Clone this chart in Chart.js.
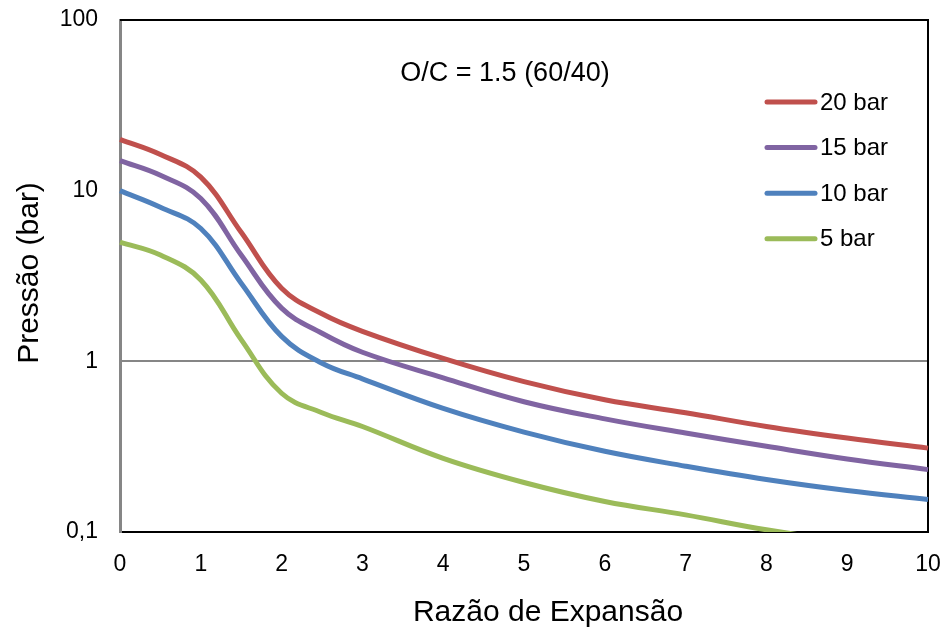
<!DOCTYPE html>
<html>
<head>
<meta charset="utf-8">
<script src="https://cdn.jsdelivr.net/npm/chart.js@4/dist/chart.umd.min.js"></script>
<style>
  body { margin: 0; background: #fff; }
</style>
</head>
<body>
<canvas id="grafico" width="946" height="633"></canvas>
<script>
// Razão de expansão (eixo x)
const razao = [0, 0.5, 1, 1.5, 2, 2.5, 3, 4, 5, 6, 7, 8, 9, 10];

// Pressão (bar) para cada pressão inicial
const p20 = [20, 16.3, 12.0, 5.7, 2.68, 1.9, 1.5, 1.04, 0.76, 0.595, 0.5, 0.415, 0.355, 0.31];
const p15 = [15, 12.3, 9.0, 4.2, 2.05, 1.46, 1.13, 0.80, 0.58, 0.46, 0.38, 0.318, 0.268, 0.232];
const p10 = [10, 8.0, 6.0, 2.87, 1.4, 0.975, 0.79, 0.53, 0.385, 0.297, 0.243, 0.203, 0.175, 0.155];
const p5 = [5, 4.2, 3.0, 1.34, 0.65, 0.50, 0.415, 0.27, 0.195, 0.151, 0.126, 0.103, 0.088, 0.076];

const nomes = ["20 bar", "15 bar", "10 bar", "5 bar"];
const cores = ["#C0504D", "#8064A2", "#4F81BD", "#9BBB59"];

// Ticks do eixo y (log)
const yTicks = [0.1, 1, 10, 100];
const yTickLabels = ["0,1", "1", "10", "100"];

const FONTE = "'Liberation Sans', Arial, sans-serif";

function serie(valores) {
  return razao.map((x, i) => ({ x: x, y: valores[i] }));
}

function dataset(label, valores, cor) {
  return {
    label: label,
    data: serie(valores),
    borderColor: cor,
    backgroundColor: cor,
    borderWidth: 5,
    pointRadius: 0,
    tension: 0.4,
    clip: { left: 3, right: 3, top: 0, bottom: 0 }
  };
}

// Moldura, título interno, legenda e títulos dos eixos
const extras = {
  id: "extras",
  beforeDatasetsDraw(chart) {
    const { ctx, chartArea: a } = chart;
    ctx.save();
    ctx.strokeStyle = "#000";
    ctx.lineWidth = 2;
    ctx.beginPath();
    ctx.moveTo(a.left, a.top);
    ctx.lineTo(a.right, a.top);
    ctx.lineTo(a.right, a.bottom);
    ctx.stroke();
    ctx.restore();
  },
  afterDraw(chart) {
    const { ctx } = chart;
    ctx.save();
    ctx.fillStyle = "#000";

    // texto interno
    ctx.font = "27px " + FONTE;
    ctx.textAlign = "center";
    ctx.textBaseline = "alphabetic";
    ctx.fillText("O/C = 1.5 (60/40)", 505, 81);

    // legenda
    ctx.font = "24px " + FONTE;
    ctx.textAlign = "left";
    ctx.textBaseline = "middle";
    chart.data.datasets.forEach((ds, i) => {
      const y = 102 + i * 45.6;
      ctx.strokeStyle = ds.borderColor;
      ctx.lineWidth = 5;
      ctx.lineCap = "round";
      ctx.beginPath();
      ctx.moveTo(767, y);
      ctx.lineTo(815, y);
      ctx.stroke();
      ctx.fillText(ds.label, 820, y + 1);
    });

    // títulos dos eixos
    ctx.font = "30px " + FONTE;
    ctx.textAlign = "center";
    ctx.textBaseline = "alphabetic";
    ctx.fillText("Razão de Expansão", 548, 621);

    ctx.translate(38, 273);
    ctx.rotate(-Math.PI / 2);
    ctx.fillText("Pressão (bar)", 0, 0);
    ctx.restore();
  }
};

new Chart(document.getElementById("grafico"), {
  type: "line",
  data: {
    datasets: [
      dataset(nomes[0], p20, cores[0]),
      dataset(nomes[1], p15, cores[1]),
      dataset(nomes[2], p10, cores[2]),
      dataset(nomes[3], p5, cores[3])
    ]
  },
  options: {
    responsive: false,
    animation: false,
    devicePixelRatio: 1,
    layout: { padding: { top: 20, right: 18, left: 0, bottom: 0 } },
    plugins: {
      legend: { display: false },
      tooltip: { enabled: false }
    },
    scales: {
      x: {
        type: "linear",
        min: 0,
        max: 10,
        afterFit: s => {
          s.height = 101;
          s.paddingLeft = 0;
          s.paddingRight = 0;
        },
        ticks: {
          stepSize: 1,
          padding: 19,
          color: "#000",
          font: { family: FONTE, size: 23 }
        },
        grid: { drawOnChartArea: false, drawTicks: false },
        border: { color: "#000", width: 2 }
      },
      y: {
        type: "logarithmic",
        min: 0.1,
        max: 100,
        afterFit: s => {
          s.width = 120;
          s.paddingTop = 0;
          s.paddingBottom = 0;
        },
        afterBuildTicks: s => { s.ticks = yTicks.map(v => ({ value: v })); },
        ticks: {
          padding: 22,
          color: "#000",
          font: { family: FONTE, size: 23 },
          callback: (v, i) => yTickLabels[i]
        },
        grid: {
          drawTicks: false,
          lineWidth: 2,
          color: c => (c.tick && c.tick.value === 1 ? "#868686" : "rgba(0,0,0,0)")
        },
        border: { color: "#868686", width: 3 }
      }
    }
  },
  plugins: [extras]
});
</script>
</body>
</html>
